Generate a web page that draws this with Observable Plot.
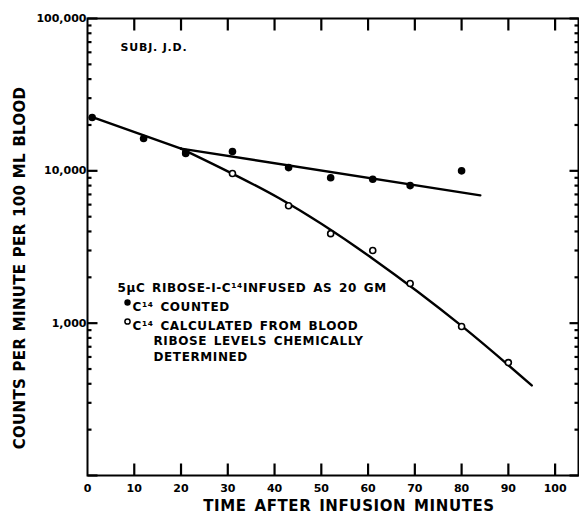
<!DOCTYPE html>
<html>
<head>
<meta charset="utf-8">
<script src="https://cdn.jsdelivr.net/npm/d3@7"></script>
<script src="https://cdn.jsdelivr.net/npm/@observablehq/plot@0.6"></script>
<style>
  html, body { margin: 0; padding: 0; background: #fff; }
</style>
</head>
<body>
<div id="chart"></div>
<script>
// Measured points: C14 counted (filled)
const countedTime = [1, 12, 21, 31, 43, 52, 61, 69, 80];
const countedValue = [22400, 16300, 13000, 13400, 10500, 9000, 8800, 8000, 10000];
// C14 calculated from blood ribose levels (open)
const calcTime = [21, 31, 43, 52, 61, 69, 80, 90];
const calcValue = [13200, 9600, 5900, 3870, 3000, 1820, 950, 551];
// Fitted lines
const commonTime = [1.2, 20];
const commonValue = [22400, 14000];
const flatTime = [20, 84];
const flatValue = [14000, 6900];
const steepTime = [20, 41, 61, 80, 95];
const steepValue = [14000, 6600, 2650, 960, 390];

// Ticks
const xTickLabels = [0, 10, 20, 30, 40, 50, 60, 70, 80, 90, 100];
const xTicks = [10, 20, 30, 40, 50, 60, 70, 80, 90, 100];
const yMajor = [100, 1000, 10000, 100000];
const yMinor = [200, 300, 400, 500, 600, 700, 800, 900,
                2000, 3000, 4000, 5000, 6000, 7000, 8000, 9000,
                20000, 30000, 40000, 50000, 60000, 70000, 80000, 90000];
const yLabelValues = [1000, 10000, 100000];
const yLabelTexts = ["1,000", "10,000", "100,000"];

const xTitle = "TIME AFTER INFUSION MINUTES";
const yTitle = "COUNTS PER MINUTE PER 100 ML BLOOD";
const subjText = "SUBJ. J.D.";
const legendLines = [
  "5\u03bcC RIBOSE-I-C\u00b9\u2074INFUSED AS 20 GM",
  "C\u00b9\u2074 COUNTED",
  "C\u00b9\u2074 CALCULATED FROM BLOOD",
  "RIBOSE LEVELS CHEMICALLY",
  "DETERMINED"
];

const counted = countedTime.map((t, i) => ({t, v: countedValue[i]}));
const calc = calcTime.map((t, i) => ({t, v: calcValue[i]}));
const common = commonTime.map((t, i) => ({t, v: commonValue[i]}));
const flat = flatTime.map((t, i) => ({t, v: flatValue[i]}));
const steep = steepTime.map((t, i) => ({t, v: steepValue[i]}));
const yLab = new Map(yLabelValues.map((v, i) => [v, yLabelTexts[i]]));

const W = 579, H = 519, mL = 87, mR = 1, mT = 18, mB = 44;

// tick-shaped symbols (inward strokes of a given pixel length)
const tickSym = (dx, dy) => ({draw(c) { c.moveTo(0, 0); c.lineTo(dx, dy); }});
const tickStyle = {stroke: "black", strokeWidth: 2.2, fill: "none", r: 5};

const chart = Plot.plot({
  width: W,
  height: H,
  marginLeft: mL,
  marginRight: mR,
  marginTop: mT,
  marginBottom: mB,
  style: {fontFamily: "DejaVu Sans", fontWeight: "bold"},
  x: {domain: [0, 105]},
  y: {type: "log", domain: [100, 100000]},
  marks: [
    Plot.frame({stroke: "black", strokeWidth: 2, fill: "none"}),
    // inward ticks
    Plot.dot(xTicks, {x: d => d, frameAnchor: "bottom", symbol: tickSym(0, -12), ...tickStyle}),
    Plot.dot(xTicks, {x: d => d, frameAnchor: "top", symbol: tickSym(0, 12), ...tickStyle}),
    Plot.dot(yMajor, {y: d => d, frameAnchor: "left", symbol: tickSym(10, 0), ...tickStyle}),
    Plot.dot(yMinor, {y: d => d, frameAnchor: "left", symbol: tickSym(4, 0), ...tickStyle}),
    Plot.dot(yMajor, {y: d => d, frameAnchor: "right", symbol: tickSym(-9, 0), ...tickStyle}),
    Plot.dot(yMinor, {y: d => d, frameAnchor: "right", symbol: tickSym(-4, 0), ...tickStyle}),
    Plot.axisX(xTickLabels, {anchor: "bottom", tickSize: 0, tickPadding: 9, fontSize: 11, tickFormat: d => String(d), label: null}),
    Plot.axisY(yLabelValues, {anchor: "left", tickSize: 0, tickPadding: 1, fontSize: 11, tickFormat: d => yLab.get(d), label: null}),
    // fitted lines
    Plot.line(common, {x: "t", y: "v", stroke: "black", strokeWidth: 2.4}),
    Plot.line(flat, {x: "t", y: "v", stroke: "black", strokeWidth: 2.4}),
    Plot.line(steep, {x: "t", y: "v", stroke: "black", strokeWidth: 2.4, curve: "natural"}),
    // points
    Plot.dot(calc, {x: "t", y: "v", r: 3, stroke: "black", strokeWidth: 1.6, fill: "white"}),
    Plot.dot(counted, {x: "t", y: "v", r: 3.8, fill: "black", stroke: "none"}),
    // titles
    Plot.text([xTitle], {frameAnchor: "bottom", textAnchor: "middle", dx: 16, dy: 35, fontSize: 15}),
    Plot.text([yTitle], {frameAnchor: "left", textAnchor: "middle", dx: -67, dy: 21, rotate: -90, fontSize: 15}),
    Plot.text([subjText], {frameAnchor: "top-left", dx: 33, dy: 25, textAnchor: "start", fontSize: 11}),
    // legend
    Plot.text([legendLines[0]], {frameAnchor: "top-left", dx: 30, dy: 265, textAnchor: "start", fontSize: 12}),
    Plot.dot([0], {frameAnchor: "top-left", dx: 40, dy: 284, r: 3.2, fill: "black"}),
    Plot.text([legendLines[1]], {frameAnchor: "top-left", dx: 45, dy: 284, textAnchor: "start", fontSize: 12}),
    Plot.dot([0], {frameAnchor: "top-left", dx: 40, dy: 303, r: 2.6, stroke: "black", strokeWidth: 1.5, fill: "white"}),
    Plot.text([legendLines[2]], {frameAnchor: "top-left", dx: 45, dy: 303, textAnchor: "start", fontSize: 12}),
    Plot.text([legendLines[3]], {frameAnchor: "top-left", dx: 66, dy: 318, textAnchor: "start", fontSize: 12}),
    Plot.text([legendLines[4]], {frameAnchor: "top-left", dx: 66, dy: 334, textAnchor: "start", fontSize: 12})
  ]
});

const spacing = new Map([
  [xTitle, ["0.6px", "2px"]],
  [yTitle, ["0.3px", "1px"]],
  [subjText, ["0.8px", "0px"]],
  ...legendLines.map(l => [l, ["0.6px", "2px"]])
]);
d3.select(chart).selectAll("text").each(function() {
  const s = spacing.get(this.textContent);
  if (s) d3.select(this).attr("letter-spacing", s[0]).attr("word-spacing", s[1]);
});

document.getElementById("chart").appendChild(chart);
</script>
</body>
</html>
